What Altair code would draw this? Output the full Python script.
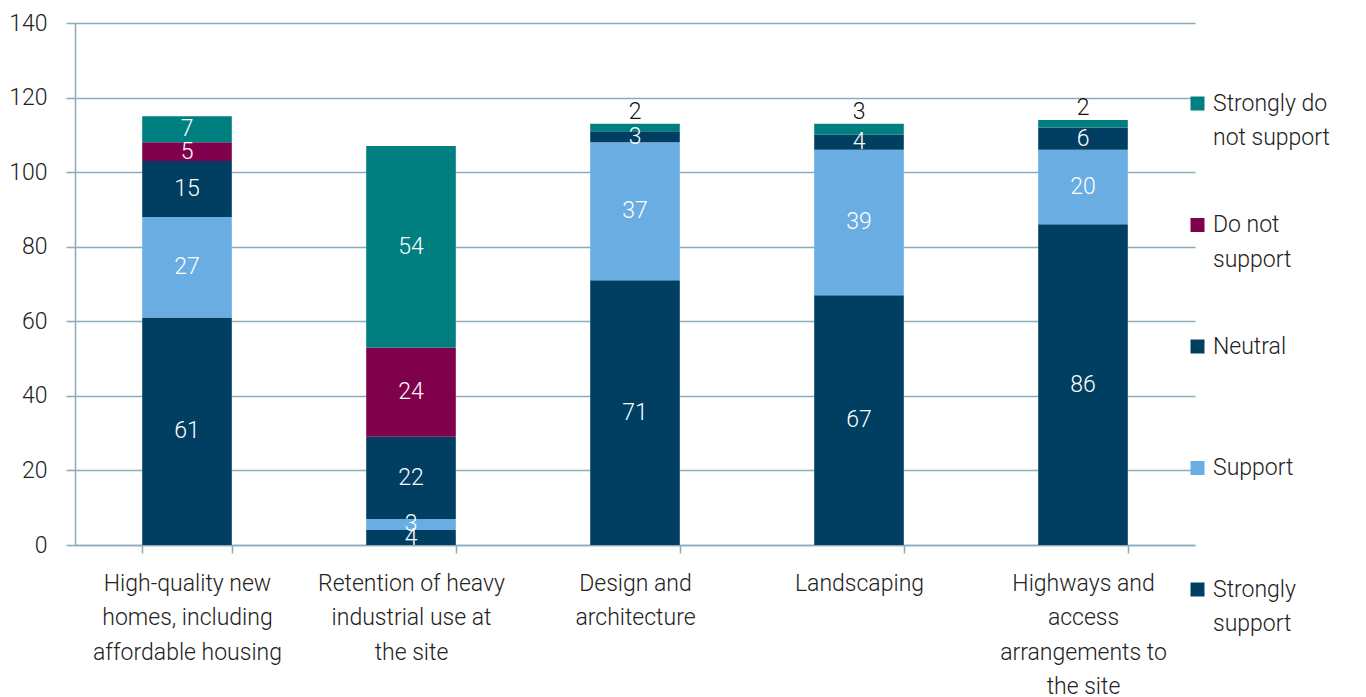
import altair as alt
import pandas as pd

categories = [
    "High-quality new\nhomes, including\naffordable housing",
    "Retention of heavy\nindustrial use at\nthe site",
    "Design and\narchitecture",
    "Landscaping",
    "Highways and\naccess\narrangements to\nthe site",
]
series = ["Strongly support", "Support", "Neutral", "Do not support", "Strongly do not support"]
strongly_support = [61, 4, 71, 67, 86]
support = [27, 3, 37, 39, 20]
neutral = [15, 22, 3, 4, 6]
do_not_support = [5, 24, 0, 0, 0]
strongly_do_not_support = [7, 54, 2, 3, 2]
colors = ["#003f62", "#6aade2", "#003f62", "#7f004b", "#007f80"]

values = [strongly_support, support, neutral, do_not_support, strongly_do_not_support]

rows = []
for ci, cat in enumerate(categories):
    cum = 0
    for si, s in enumerate(series):
        v = values[si][ci]
        start, end = cum, cum + v
        cum = end
        if v == 0:
            continue
        outside = (s == "Strongly do not support") and v < 5
        rows.append({
            "category": cat, "series": s, "value": v,
            "start": start, "end": end, "mid": (start + end) / 2,
            "order": si, "outside": outside,
        })
df = pd.DataFrame(rows)

FONT = "Roboto"
GRID = "#8eaabb"

legend_expr = (
    "datum.label == 'Strongly do not support' ? ['Strongly do', 'not support'] : "
    "datum.label == 'Do not support' ? ['Do not', 'support'] : "
    "datum.label == 'Strongly support' ? ['Strongly', 'support'] : [datum.label, '']"
)

x_enc = alt.X(
    "category:N", sort=categories, title=None,
    scale=alt.Scale(paddingInner=0.6, paddingOuter=0.3),
    axis=alt.Axis(
        labelAngle=0, labelFontSize=23, labelFont=FONT, labelFontWeight=300,
        labelColor="#222222", labelLineHeight=34.5, labelPadding=19,
        labelExpr="split(datum.label, '\\n')", labelLimit=400,
        tickBand="extent", tickSize=8, tickColor=GRID, tickWidth=1.5,
        domainColor=GRID, domainWidth=1.5, grid=False,
    ),
)

bars = alt.Chart(df).mark_bar().encode(
    x=x_enc,
    y=alt.Y(
        "start:Q", title=None,
        scale=alt.Scale(domain=[0, 140], nice=False),
        axis=alt.Axis(
            values=[0, 20, 40, 60, 80, 100, 120, 140],
            labelFontSize=23, labelFont=FONT, labelFontWeight=300, labelColor="#222222",
            labelPadding=19, tickSize=9, tickColor=GRID, tickWidth=1.5,
            domainColor=GRID, domainWidth=1.5,
            grid=True, gridColor=GRID, gridWidth=1.5,
        ),
    ),
    y2="end:Q",
    color=alt.Color(
        "series:N",
        scale=alt.Scale(domain=series[::-1], range=colors[::-1]),
        legend=alt.Legend(
            title=None, orient="none", legendX=1111, legendY=69,
            symbolType="square", symbolSize=196, symbolStrokeWidth=0,
            labelFontSize=23, labelFont=FONT, labelFontWeight=300, labelColor="#222222",
            labelLimit=400, labelOffset=4, rowPadding=63.5, padding=0,
            labelExpr=legend_expr,
        ),
    ),
)

inside = alt.Chart(df).transform_filter("!datum.outside").mark_text(
    color="white", fontSize=23, font=FONT, fontWeight=300, baseline="middle"
).encode(
    x=alt.X("category:N", sort=categories),
    y=alt.Y("mid:Q"),
    text="value:Q",
)

outside = alt.Chart(df).transform_filter("datum.outside").mark_text(
    color="#111111", fontSize=23, font=FONT, fontWeight=300, baseline="alphabetic", dy=-5
).encode(
    x=alt.X("category:N", sort=categories),
    y=alt.Y("end:Q"),
    text="value:Q",
)

chart = (
    alt.layer(bars, inside, outside)
    .properties(
        width=1120, height=522,
        padding={"left": 0, "top": 4, "right": 0, "bottom": 0},
    )
    .configure(style={"guide-label": {"lineHeight": 34.5}})
    .configure_view(stroke=None)
)

chart.save("out.html", embed_options={"renderer": "svg", "actions": False})
